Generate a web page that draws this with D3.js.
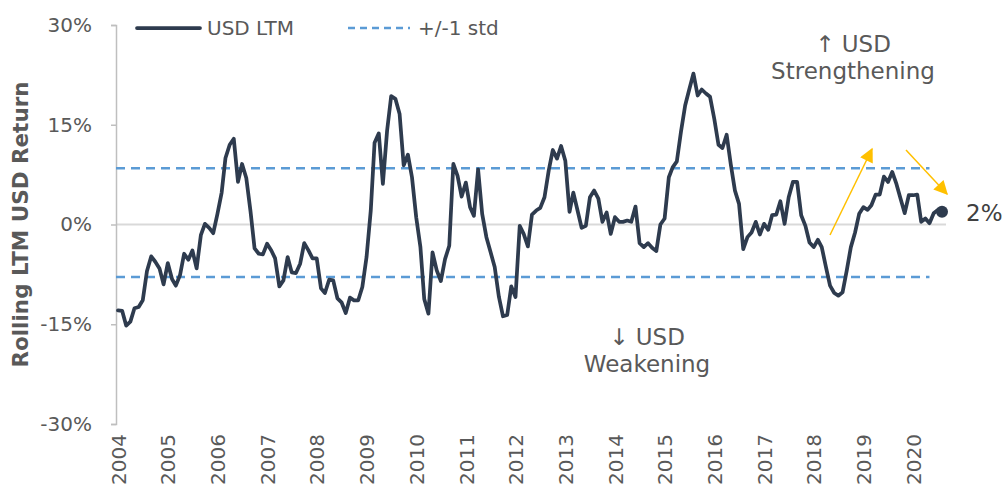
<!DOCTYPE html>
<html>
<head>
<meta charset="utf-8">
<script src="https://cdn.jsdelivr.net/npm/d3@7"></script>
<style>
	body { margin:0; background:#ffffff; }
	#vizcontainer { width:1003px; height:490px; }
	text { font-family: "DejaVu Sans", sans-serif; }
</style>
</head>
<body>
<div id="vizcontainer"></div>
<script>

// monthly rolling LTM USD return (%), Jan 2004 onwards
var startMonth = "2004-01";
var usdLtm = [
	-12.9, -13.0, -15.2, -14.6, -12.6, -12.4, -11.4, -7.0, -4.8, -5.6, -6.6, -9.0,
	-5.8, -8.2, -9.2, -7.6, -4.4, -5.3, -3.9, -6.6, -1.6, 0.1, -0.5, -1.3,
	1.6, 4.8, 10.0, 12.0, 12.9, 6.4, 9.1, 7.0, 2.0, -3.6, -4.4, -4.5,
	-2.9, -3.9, -5.1, -9.3, -8.4, -4.9, -7.2, -7.3, -5.9, -2.8, -3.9, -5.1,
	-5.1, -9.6, -10.3, -8.3, -8.4, -11.1, -11.7, -13.3, -11.0, -11.4, -11.4, -9.4,
	-4.9, 2.1, 12.3, 13.7, 6.1, 14.1, 19.3, 18.9, 16.6, 8.9, 10.5, 7.1,
	1.1, -3.4, -11.2, -13.4, -4.2, -6.9, -8.5, -5.2, -3.2, 9.1, 7.3, 4.2,
	6.3, 2.6, 1.3, 8.3, 1.6, -1.9, -4.1, -6.4, -10.9, -13.8, -13.6, -9.3,
	-10.9, -0.2, -1.4, -3.3, 1.5, 2.1, 2.5, 4.1, 8.1, 11.2, 9.9, 11.8,
	9.6, 1.9, 4.8, 2.1, -0.5, -0.2, 4.1, 5.1, 3.9, 0.4, 1.8, -1.4,
	1.1, 0.4, 0.4, 0.6, 0.4, 2.7, -2.8, -3.4, -2.8, -3.5, -4.0, 0.0,
	0.9, 7.1, 8.6, 9.5, 13.9, 17.9, 20.3, 22.7, 19.4, 20.3, 19.7, 19.2,
	15.9, 12.0, 11.5, 13.5, 9.1, 5.1, 3.1, -3.7, -1.9, -1.2, 0.4, -1.5,
	0.1, -0.8, 1.4, 1.5, 3.5, 0.1, 4.1, 6.4, 6.4, 1.4, -0.2, -2.7,
	-3.4, -2.3, -3.4, -6.4, -9.2, -10.3, -10.7, -10.2, -6.9, -3.4, -1.2, 1.6,
	2.6, 2.2, 2.9, 4.5, 4.5, 7.2, 6.4, 7.9, 6.1, 3.9, 1.7, 4.4,
	4.4, 4.5, 0.4, 0.9, 0.2, 1.7, 2.2, 1.9
];

// +/- 1 standard deviation band
var stdUpper = 8.45;
var stdLower = -7.9;
var stdRange = ["2004-01", "2020-05"];

var yTicks = [-30, -15, 0, 15, 30];
var yearTicks = [2004, 2005, 2006, 2007, 2008, 2009, 2010, 2011, 2012, 2013, 2014, 2015, 2016, 2017, 2018, 2019, 2020];

var legendLabels = ["USD LTM", "+/-1 std"];
var yTitle = "Rolling LTM USD Return";
var upNote = ["\u2191 USD", "Strengthening"];
var downNote = ["\u2193 USD", "Weakening"];

var navy = "#2e3b4e";
var blue = "#5b9bd5";
var gold = "#ffc000";
var grey = "#595959";

var parseMonth = d3.timeParse("%Y-%m");
var start = parseMonth(startMonth);
var series = usdLtm.map(function(v, i){
	return { date: d3.timeMonth.offset(start, i), value: v };
});
var last = series[series.length - 1];

var svg = d3.select("#vizcontainer").append("svg")
	.attr("width", 1003)
	.attr("height", 490);

var x = d3.scaleTime()
	.domain([start, last.date])
	.range([118, 942]);

var y = d3.scaleLinear()
	.domain([-30, 30])
	.range([424, 25]);

// zero line (acts as the category axis line)
svg.append("line")
	.attr("x1", 116).attr("x2", 946)
	.attr("y1", y(0)).attr("y2", y(0))
	.attr("stroke", "#d9d9d9")
	.attr("stroke-width", 2);

// y axis
var yAxis = d3.axisLeft(y)
	.tickValues(yTicks)
	.tickSize(5)
	.tickPadding(19)
	.tickFormat(function(d){ return d + "%"; });

var ya = svg.append("g")
	.attr("transform", "translate(116,0)")
	.call(yAxis);
ya.select(".domain").attr("stroke", "#bfbfbf").attr("stroke-width", 1.5);
ya.selectAll(".tick line").attr("stroke", "#bfbfbf").attr("stroke-width", 1.5);
ya.selectAll(".tick text")
	.attr("fill", grey)
	.style("font-size", "20px")
	.style("font-family", "DejaVu Sans");

// x axis labels, rotated
var xAxis = d3.axisBottom(x)
	.tickValues(yearTicks.map(function(yr){ return new Date(yr, 0, 1); }))
	.tickSize(0)
	.tickFormat(d3.timeFormat("%Y"));

var xa = svg.append("g")
	.attr("transform", "translate(0,434)")
	.call(xAxis);
xa.select(".domain").remove();
xa.selectAll(".tick text")
	.attr("fill", grey)
	.style("font-size", "20px")
	.style("font-family", "DejaVu Sans")
	.attr("text-anchor", "end")
	.attr("transform", "rotate(-90)")
	.attr("x", 0)
	.attr("y", 0)
	.attr("dx", 0)
	.attr("dy", "0.36em");

// y title
svg.append("text")
	.attr("transform", "translate(28," + y(0) + ") rotate(-90)")
	.attr("text-anchor", "middle")
	.attr("fill", grey)
	.style("font-size", "21.5px")
	.style("font-weight", "bold")
	.text(yTitle);

// std band lines
var stdX1 = x(parseMonth(stdRange[0])) - 2;
var stdX2 = x(parseMonth(stdRange[1]));
[stdUpper, stdLower].forEach(function(v){
	svg.append("line")
		.attr("x1", stdX1).attr("x2", stdX2)
		.attr("y1", y(v)).attr("y2", y(v))
		.attr("stroke", blue)
		.attr("stroke-width", 2.5)
		.attr("stroke-dasharray", "9,6");
});

// main line
var line = d3.line()
	.x(function(d){ return x(d.date); })
	.y(function(d){ return y(d.value); });

svg.append("path")
	.datum(series)
	.attr("d", line)
	.attr("fill", "none")
	.attr("stroke", navy)
	.attr("stroke-width", 3.75)
	.attr("stroke-linejoin", "round")
	.attr("stroke-linecap", "round");

svg.append("circle")
	.attr("cx", x(last.date))
	.attr("cy", y(last.value))
	.attr("r", 6)
	.attr("fill", navy);

svg.append("text")
	.attr("x", 966)
	.attr("y", y(last.value) + 9)
	.attr("fill", "#404040")
	.style("font-size", "23px")
	.text(Math.round(last.value) + "%");

// legend
var lg = svg.append("g");
lg.append("line")
	.attr("x1", 137).attr("x2", 200).attr("y1", 28).attr("y2", 28)
	.attr("stroke", navy).attr("stroke-width", 3.75).attr("stroke-linecap", "round");
lg.append("text")
	.attr("x", 207).attr("y", 35)
	.attr("fill", grey).style("font-size", "20px")
	.text(legendLabels[0]);
lg.append("line")
	.attr("x1", 348).attr("x2", 410).attr("y1", 28).attr("y2", 28)
	.attr("stroke", blue).attr("stroke-width", 2.5).attr("stroke-dasharray", "7,5");
lg.append("text")
	.attr("x", 418).attr("y", 35)
	.attr("fill", grey).style("font-size", "20px")
	.text(legendLabels[1]);

// notes
function note(lines, cx, y0){
	lines.forEach(function(t, i){
		svg.append("text")
			.attr("x", cx).attr("y", y0 + i * 27)
			.attr("text-anchor", "middle")
			.attr("fill", grey)
			.style("font-size", "23px")
			.text(t);
	});
}
note(upNote, 853, 52);
note(downNote, 647, 345);

// yellow arrows
svg.append("defs").append("marker")
	.attr("id", "head")
	.attr("viewBox", "0 0 10 10")
	.attr("refX", 9).attr("refY", 5)
	.attr("markerWidth", 15).attr("markerHeight", 14)
	.attr("markerUnits", "userSpaceOnUse")
	.attr("orient", "auto")
	.append("path")
	.attr("d", "M0,0 L10,5 L0,10 Z")
	.attr("fill", gold);

var arrows = [[830, 235, 872, 149], [906, 150, 947, 194]];
arrows.forEach(function(a){
	svg.append("line")
		.attr("x1", a[0]).attr("y1", a[1])
		.attr("x2", a[2]).attr("y2", a[3])
		.attr("stroke", gold)
		.attr("stroke-width", 1.5)
		.attr("marker-end", "url(#head)");
});

</script>
</body>
</html>
